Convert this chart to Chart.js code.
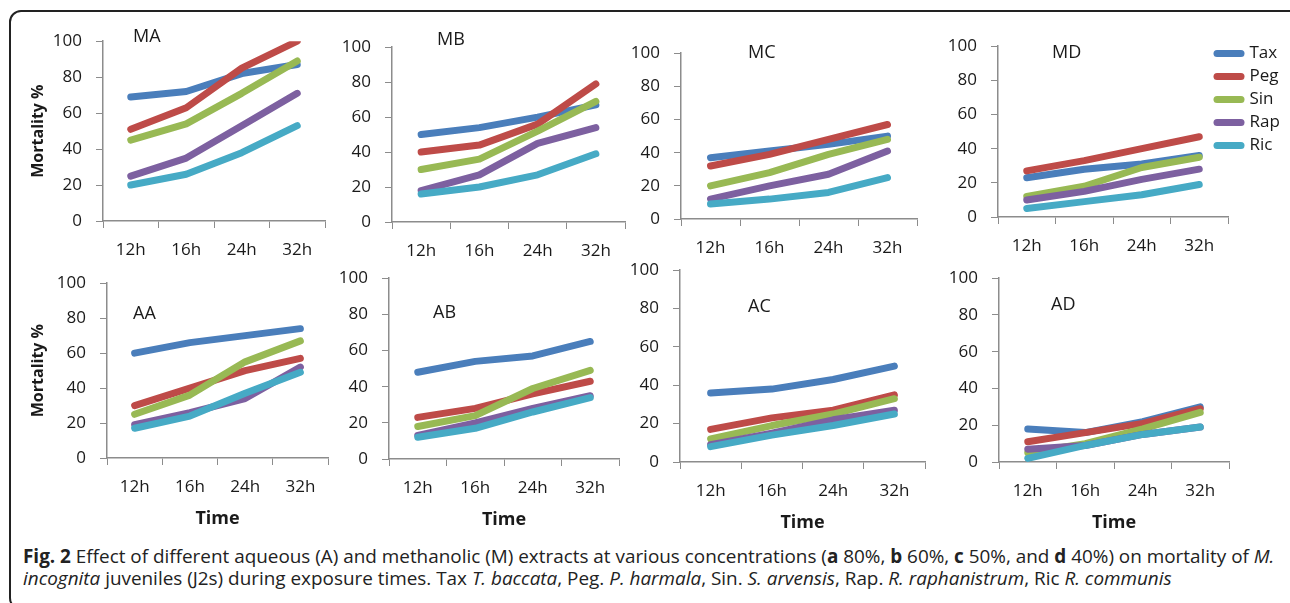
<!DOCTYPE html>
<html>
<head>
<meta charset="utf-8">
<script src="https://cdn.jsdelivr.net/npm/chart.js@4.4.1/dist/chart.umd.min.js"></script>
<style>
  html, body { margin: 0; padding: 0; background: #fff; }
  body { width: 1290px; height: 603px; position: relative; overflow: hidden; font-family: "Open Sans", sans-serif; }
  .frame { position: absolute; left: 9px; top: 10px; width: 1300px; height: 600px; border: 2px solid #222; border-radius: 12px; box-sizing: border-box; }
  canvas { position: absolute; }
  .caption { position: absolute; left: 23px; top: 546px; font-size: 18.9px; line-height: 21.5px; color: #222; white-space: nowrap; }
</style>
</head>
<body>
<div class="frame"></div>
<div id="panels"></div>
<div class="caption"><b>Fig. 2</b> Effect of different aqueous (A) and methanolic (M) extracts at various concentrations (<b>a</b> 80%, <b>b</b> 60%, <b>c</b> 50%, and <b>d</b> 40%) on mortality of <i>M.</i><br><i>incognita</i> juveniles (J2s) during exposure times. Tax <i>T. baccata</i>, Peg. <i>P. harmala</i>, Sin. <i>S. arvensis</i>, Rap. <i>R. raphanistrum</i>, Ric <i>R. communis</i></div>
<script>
// exposure times and extracts
const times = ["12h", "16h", "24h", "32h"];
const seriesNames = ["Tax", "Peg", "Sin", "Rap", "Ric"];
const yMin = 0, yMax = 100, yStep = 20;

// mortality % per panel, one row per extract (Tax, Peg, Sin, Rap, Ric)
const panelNames = ["MA", "MB", "MC", "MD", "AA", "AB", "AC", "AD"];
const MA = [[69, 72, 82, 87], [51, 63, 85, 100], [45, 54, 71, 89], [25, 35, 53, 71], [20, 26, 38, 53]];
const MB = [[50, 54, 60, 67], [40, 44, 56, 79], [30, 36, 52, 69], [18, 27, 45, 54], [16, 20, 27, 39]];
const MC = [[37, 41, 45, 50], [32, 39, 48, 57], [20, 28, 39, 48], [12, 20, 27, 41], [9, 12, 16, 25]];
const MD = [[23, 28, 31, 36], [27, 33, 40, 47], [12, 18, 29, 35], [10, 15, 22, 28], [5, 9, 13, 19]];
const AA = [[60, 66, 70, 74], [30, 40, 50, 57], [25, 36, 55, 67], [19, 26, 34, 52], [17, 24, 37, 49]];
const AB = [[48, 54, 57, 65], [23, 28, 36, 43], [18, 24, 39, 49], [13, 20, 28, 35], [12, 17, 26, 34]];
const AC = [[36, 38, 43, 50], [17, 23, 27, 35], [12, 19, 25, 33], [9, 15, 22, 27], [8, 14, 19, 25]];
const AD = [[18, 16, 22, 30], [11, 16, 21, 29], [5, 10, 18, 27], [7, 9, 15, 19], [2, 9, 15, 19]];
const panelData = [MA, MB, MC, MD, AA, AB, AC, AD];

const colors = ["#4a7ebb", "#be4b48", "#98b954", "#7d60a0", "#46aac5"];

// plot area of each panel on the page (left, top, right, bottom) + label offset
const layout = [
  { l: 103, t: 37, r: 325, b: 221, lx: 30, ly: -4, ytitle: 6 },
  { l: 392, t: 43, r: 625, b: 222, lx: 45, ly: -7 },
  { l: 681, t: 49, r: 917, b: 219, lx: 67, ly: 0 },
  { l: 998, t: 42, r: 1228, b: 217, lx: 54, ly: 7, legend: true },
  { l: 107, t: 279, r: 328, b: 458, lx: 26, ly: 31, ytitle: 2, xtitle: true },
  { l: 389, t: 274, r: 619, b: 459, lx: 44, ly: 35, xtitle: true },
  { l: 680, t: 266, r: 925, b: 462, lx: 68, ly: 37, xtitle: true },
  { l: 999, t: 274, r: 1229, b: 462, lx: 52, ly: 27, xtitle: true },
];
const YW = 80, PT = 20, PR = 6, LW = 62;

Chart.defaults.font.family = '"Open Sans", sans-serif';
Chart.defaults.color = "#1a1a1a";

const panelLabel = {
  id: "panelLabel",
  afterLayout(chart, args, opts) {
    // excel lets the legend sit over the end of the plot area
    if (opts.legendShift && chart.legend) {
      chart.legend.left += opts.legendShift[0];
      chart.legend.top += opts.legendShift[1];
    }
  },
  afterDraw(chart, args, opts) {
    const { ctx, chartArea } = chart;
    ctx.save();
    ctx.font = '18px "Open Sans"';
    ctx.fillStyle = "#1a1a1a";
    ctx.textBaseline = "middle";
    ctx.textAlign = "left";
    ctx.fillText(opts.text, chartArea.left + opts.dx, chartArea.top + opts.dy);
    ctx.restore();
  },
};

const axisColor = "#8c8c8c";
const defaultLabels = Chart.defaults.plugins.legend.labels.generateLabels;

panelNames.forEach((name, p) => {
  const lay = layout[p];
  const xh = lay.xtitle ? 75 : 40;
  const canvas = document.createElement("canvas");
  canvas.width = lay.r - lay.l + YW + (lay.legend ? LW : PR);
  canvas.height = lay.b - lay.t + PT + xh;
  canvas.style.left = lay.l - YW + "px";
  canvas.style.top = lay.t - PT + "px";
  document.getElementById("panels").appendChild(canvas);

  new Chart(canvas.getContext("2d"), {
    type: "line",
    data: {
      labels: times,
      datasets: seriesNames.map((s, i) => ({
        label: s,
        data: panelData[p][i],
        borderColor: colors[i],
        backgroundColor: colors[i],
        borderWidth: 7,
        borderCapStyle: "round",
        borderJoinStyle: "round",
        pointRadius: 0,
        pointStyle: "line",
        tension: 0,
        fill: false,
        order: seriesNames.length - i,
      })),
    },
    options: {
      responsive: false,
      animation: false,
      events: [],
      layout: { padding: { top: PT, right: lay.legend ? 0 : PR, left: 0, bottom: 0 } },
      plugins: {
        tooltip: { enabled: false },
        panelLabel: { text: name, dx: lay.lx, dy: lay.ly, legendShift: lay.legend ? [-17, -3] : null },
        legend: {
          display: !!lay.legend,
          position: "right",
          align: "start",
          maxWidth: LW,
          labels: {
            usePointStyle: true,
            pointStyleWidth: 24,
            padding: 6,
            color: "#1a1a1a",
            font: { size: 17 },
            generateLabels: (c) => defaultLabels(c).map((l) => ({ ...l, lineCap: "round", lineWidth: 7 })),
            sort: (a, b) => a.datasetIndex - b.datasetIndex,
          },
        },
      },
      scales: {
        x: {
          offset: true,
          afterFit: (s) => { s.height = xh; },
          grid: { offset: true, drawOnChartArea: false, tickLength: 7, color: axisColor },
          border: { color: axisColor, width: 1.5 },
          ticks: { padding: 12, font: { size: 17 }, maxRotation: 0 },
          title: {
            display: !!lay.xtitle,
            text: "Time",
            font: { size: 18, weight: "bold" },
            padding: { top: 0, bottom: 3 },
          },
        },
        y: {
          min: yMin,
          max: yMax,
          afterFit: (s) => { s.width = YW; },
          grid: { drawOnChartArea: false, tickLength: 7, color: axisColor },
          border: { color: axisColor, width: 1.5 },
          ticks: { stepSize: yStep, padding: 14, font: { size: 17 } },
          title: {
            display: lay.ytitle !== undefined,
            text: "Mortality %",
            font: { size: 16, weight: "bold" },
            padding: { top: lay.ytitle || 0, bottom: 0 },
          },
        },
      },
    },
    plugins: [panelLabel],
  });
});
</script>
</body>
</html>
